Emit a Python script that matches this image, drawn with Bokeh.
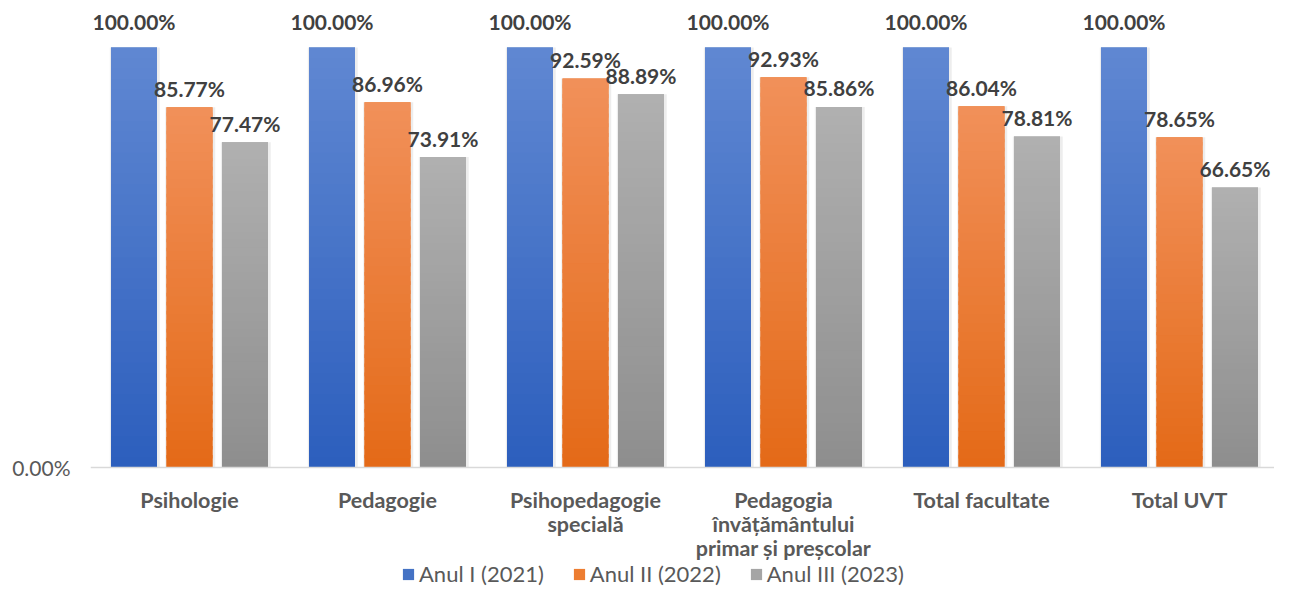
import numpy as np
from bokeh.plotting import figure
from bokeh.models import ColumnDataSource, Range1d, FixedTicker, Span, Legend, LegendItem, NumeralTickFormatter
from bokeh.core.properties import value
from bokeh.embed import file_html
from bokeh.resources import INLINE

# ---------------- data ----------------
categories = [
    "Psihologie",
    "Pedagogie",
    "Psihopedagogie\nspecială",
    "Pedagogia\nînvățământului\nprimar și preșcolar",
    "Total facultate",
    "Total UVT",
]
series_names = ["Anul I (2021)", "Anul II (2022)", "Anul III (2023)"]
anul_1 = [100.00, 100.00, 100.00, 100.00, 100.00, 100.00]
anul_2 = [85.77, 86.96, 92.59, 92.93, 86.04, 78.65]
anul_3 = [77.47, 73.91, 88.89, 85.86, 78.81, 66.65]
series_values = [anul_1, anul_2, anul_3]

# ---------------- style ----------------
FONT = "Lato"
top_colors = ["#6088d2", "#f1905a", "#b0b0b0"]
bottom_colors = ["#2c5ebd", "#e46a17", "#8e8e8e"]
mid_colors = ["#4472c4", "#ed7d31", "#a5a5a5"]
STEP_PX = 198.0
offsets = [-55.5 / STEP_PX, 0.0, 55.5 / STEP_PX]
bar_w = 46.0 / STEP_PX
PX_PER_UNIT = 4.2
N_SLICES = 40

W, H = 1274, 587
left_border = 90
baseline_px = 467
x_end = (W - left_border) / STEP_PX
y_top = baseline_px / PX_PER_UNIT
y_bot = -(H - baseline_px) / PX_PER_UNIT

p = figure(width=W, height=H, output_backend="svg", toolbar_location=None,
           x_range=Range1d(0, x_end), y_range=Range1d(y_bot, y_top),
           min_border_left=left_border, min_border_right=0,
           min_border_top=0, min_border_bottom=0)
p.xaxis.visible = False
p.xgrid.visible = False
p.ygrid.visible = False
p.outline_line_color = None
p.background_fill_color = "white"
p.border_fill_color = "white"

p.yaxis.ticker = FixedTicker(ticks=[0])
p.yaxis.formatter = NumeralTickFormatter(format="0.00%")
p.yaxis.axis_line_color = None
p.yaxis.major_tick_line_color = None
p.yaxis.minor_tick_line_color = None
p.yaxis.major_tick_in = 0
p.yaxis.major_tick_out = 0
p.yaxis.major_label_standoff = 20
p.yaxis.major_label_text_font = FONT
p.yaxis.major_label_text_font_size = "21px"
p.yaxis.major_label_text_color = "#595959"


def hex2rgb(h):
    h = h.lstrip("#")
    return np.array([int(h[i:i + 2], 16) for i in (0, 2, 4)], dtype=float)


def rgb2hex(c):
    return "#%02x%02x%02x" % tuple(int(round(v)) for v in c)


xc = np.arange(len(categories)) + 0.5
legend_items = []
for s, vals in enumerate(series_values):
    vals = np.array(vals, dtype=float)
    xs = xc + offsets[s]
    # soft shadow
    p.vbar(x=xs + 0.004, top=vals, bottom=0, width=bar_w + 0.02,
           fill_color="#000000", fill_alpha=0.07, line_color=None)
    # base bar (legend)
    base = p.vbar(x=xs, top=vals, bottom=0, width=bar_w,
                  fill_color=mid_colors[s], line_color=None)
    legend_items.append(LegendItem(label=series_names[s], renderers=[base]))
    # gradient slices
    c_top, c_bot = hex2rgb(top_colors[s]), hex2rgb(bottom_colors[s])
    gx, gb, gt, gc = [], [], [], []
    for i, v in enumerate(vals):
        for k in range(N_SLICES):
            t = (k + 0.5) / N_SLICES
            gx.append(xs[i])
            gb.append(v * k / N_SLICES)
            gt.append(min(v, v * (k + 1.4) / N_SLICES))
            gc.append(rgb2hex(c_bot + (c_top - c_bot) * t))
    src = ColumnDataSource(dict(x=gx, bottom=gb, top=gt, color=gc))
    p.vbar(x="x", bottom="bottom", top="top", width=bar_w, fill_color="color",
           line_color=None, source=src)
    # data labels
    lab_y = [v + (26 if v >= 100 else 19) / PX_PER_UNIT for v in vals]
    lab_t = ["%.2f%%" % v for v in vals]
    p.text(x=xs, y=lab_y, text=lab_t, text_align="center", text_baseline="middle",
           text_font=value(FONT), text_font_style="bold", text_font_size="21px",
           text_color="#404040")

# baseline
p.add_layout(Span(location=0, dimension="width", line_color="#d9d9d9", line_width=1.5))

# category labels
p.text(x=xc, y=[-19 / PX_PER_UNIT] * len(categories), text=categories,
       text_align="center", text_baseline="top", text_line_height=0.94,
       text_font=value(FONT), text_font_style="bold", text_font_size="21.5px",
       text_color="#595959")

legend = Legend(items=legend_items, orientation="horizontal",
                location=(401 - left_border, 0), padding=0, margin=0, spacing=28,
                glyph_width=14, glyph_height=14, label_height=20, label_standoff=4,
                label_text_font=FONT, label_text_font_size="22px",
                label_text_color="#595959", border_line_color=None,
                background_fill_alpha=0)
p.add_layout(legend)

open("out.html", "w").write(file_html(p, INLINE))
